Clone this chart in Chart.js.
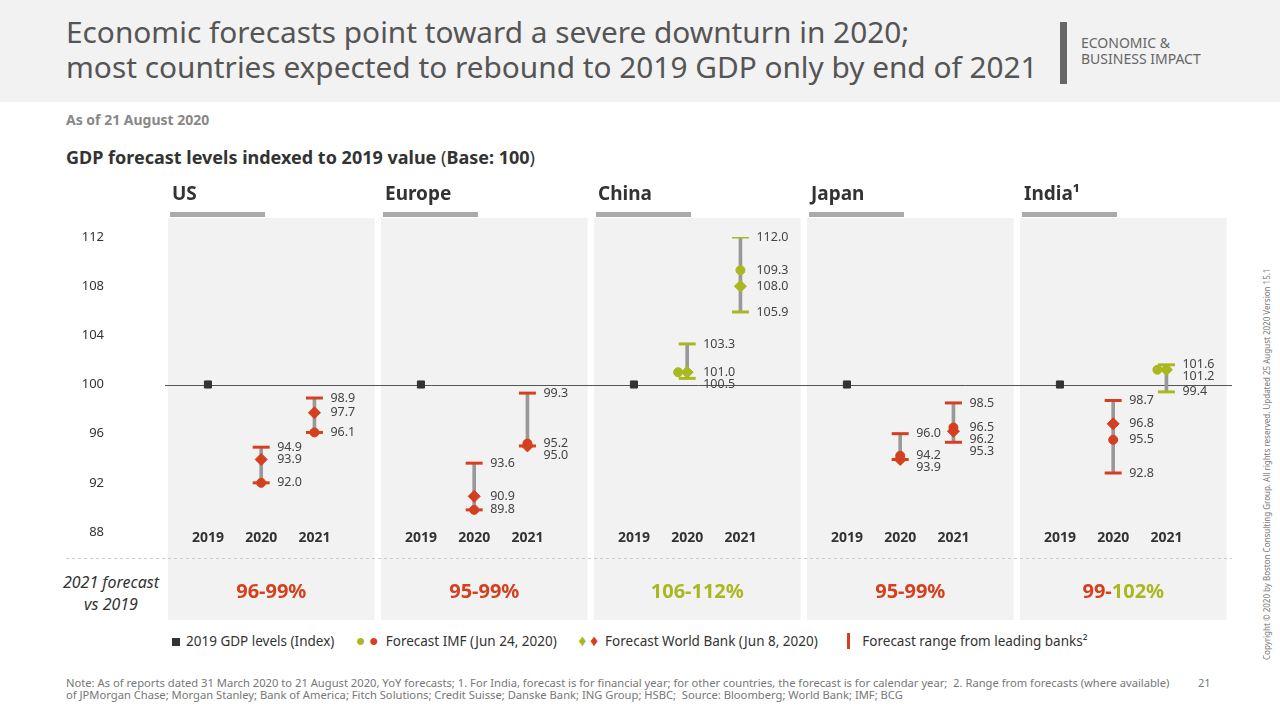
<!DOCTYPE html>
<html><head><meta charset="utf-8">
<script src="https://cdn.jsdelivr.net/npm/chart.js@4"></script>
<style>
body{margin:0;width:1280px;height:720px;position:relative;font-family:"Noto Sans",sans-serif;background:#fff;overflow:hidden}
.a{position:absolute;white-space:nowrap}
#hdr{position:absolute;left:0;top:0;width:1280px;height:102px;background:#f2f2f2}
canvas{position:absolute;left:0;top:0}
</style></head><body>
<div id="hdr"></div>
<div class="a" style="left:66px;top:14px;font-size:29.8px;color:#555;line-height:35px">Economic forecasts point toward a severe downturn in 2020;<br>most countries expected to rebound to 2019 GDP only by end of 2021</div>
<div class="a" style="left:1060px;top:22px;width:7px;height:62px;background:#666"></div>
<div class="a" style="left:1081px;top:35px;font-size:14px;color:#666;line-height:16px">ECONOMIC &amp;<br>BUSINESS IMPACT</div>
<div class="a" style="left:66px;top:110px;font-size:14px;font-weight:bold;color:#888">As of 21 August 2020</div>
<div class="a" style="left:66px;top:145px;font-size:18px;font-weight:bold;color:#333">GDP forecast levels indexed to 2019 value <span style="font-weight:normal">(</span>Base: 100<span style="font-weight:normal">)</span></div>
<div class="a" style="left:52px;top:571px;width:118px;text-align:center;font-size:16px;font-style:italic;color:#333;line-height:22px">2021 forecast<br>vs 2019</div>
<div class="a" style="left:172px;top:631px;font-size:13.5px;color:#333;line-height:18px">
<span style="display:inline-block;width:8px;height:8px;background:#333;margin-right:6px"></span>2019 GDP levels (Index)
<span style="color:#a9b81e;margin-left:18px;font-size:16px">●</span> <span style="color:#d4401f;font-size:16px">●</span>&nbsp; Forecast IMF (Jun 24, 2020)
<span style="color:#a9b81e;margin-left:18px;font-size:16px">♦</span> <span style="color:#d4401f;font-size:16px">♦</span>&nbsp; Forecast World Bank (Jun 8, 2020)
<span style="display:inline-block;width:3px;height:16px;background:#d4401f;margin-left:26px;margin-right:12px;vertical-align:-3px"></span>Forecast range from leading banks²</div>
<div class="a" style="left:66px;top:677px;font-size:11.2px;color:#777;line-height:12px">Note: As of reports dated 31 March 2020 to 21 August 2020, YoY forecasts; 1. For India, forecast is for financial year; for other countries, the forecast is for calendar year;&nbsp; 2. Range from forecasts (where available)<br>of JPMorgan Chase; Morgan Stanley; Bank of America; Fitch Solutions; Credit Suisse; Danske Bank; ING Group; HSBC;&nbsp; Source: Bloomberg; World Bank; IMF; BCG</div>
<div class="a" style="left:1198px;top:675px;font-size:11px;color:#777">21</div>
<div class="a" style="left:1261px;top:660px;font-size:8px;color:#777;transform:rotate(-90deg);transform-origin:0 0">Copyright © 2020 by Boston Consulting Group. All rights reserved. Updated 25 August 2020 Version 15.1</div>
<canvas id="c" width="1280" height="720"></canvas>
<script>
const regions=["US","Europe","China","Japan","India¹"];
const years=["2019","2020","2021"];
const base2019=[100,100,100,100,100];
// per region: [2020, 2021]
const imf=[[92.0,96.1],[89.8,95.2],[101.0,109.3],[94.2,96.5],[95.5,101.2]];
const wb=[[93.9,97.7],[90.9,95.0],[101.0,108.0],[93.9,96.2],[96.8,101.2]];
const rangeLow=[[92.0,96.1],[89.8,95.0],[100.5,105.9],[93.9,95.3],[92.8,99.4]];
const rangeHigh=[[94.9,98.9],[93.6,99.3],[103.3,112.0],[96.0,98.5],[98.7,101.6]];
const labelVals=[[[94.9,93.9,92.0],[98.9,97.7,96.1]],[[93.6,90.9,89.8],[99.3,95.2,95.0]],[[103.3,101.0,100.5],[112.0,109.3,108.0,105.9]],[[96.0,94.2,93.9],[98.5,96.5,96.2,95.3]],[[98.7,96.8,95.5,92.8],[101.6,101.2,99.4]]];
const imfShift=[[0,0],[0,0],[-0.17,0],[0,0],[0,-0.17]];
const forecast2021=[["96-99%"],["95-99%"],["106-112%"],["95-99%"],["99-","102%"]];

const RED="#d4401f",GREEN="#a9b81e",GRAY="#999";
const col=v=>v>=100?GREEN:RED;
const xOf=(r,k)=>4*r+0.75+k;
const sq=[],imfP=[],wbP=[],bars=[],caps=[];
regions.forEach((_,r)=>{
  sq.push({x:xOf(r,0),y:base2019[r]});
  for(let k=0;k<2;k++){
    const c=col(rangeHigh[r][k]);
    imfP.push({x:xOf(r,k+1)+imfShift[r][k],y:imf[r][k],c});
    wbP.push({x:xOf(r,k+1),y:wb[r][k],c});
    bars.push({x:xOf(r,k+1),y:[rangeLow[r][k],rangeHigh[r][k]]});
    caps.push({x:xOf(r,k+1),y:rangeLow[r][k],c});
    caps.push({x:xOf(r,k+1),y:rangeHigh[r][k],c});
  }
});
const F='"Noto Sans",sans-serif';
const deco={id:'deco',
 beforeDraw(ch){const c=ch.ctx,x=ch.scales.x,y=ch.scales.y;c.save();
  regions.forEach((n,r)=>{const l=x.getPixelForValue(4*r),rr=x.getPixelForValue(4*r+3.88);
   c.fillStyle="#f2f2f2";c.fillRect(l,218,rr-l,402);
   c.fillStyle="#aaa";c.fillRect(l+2,212,95,5);
   c.fillStyle="#333";c.font="bold 19px "+F;c.textBaseline="alphabetic";c.textAlign="left";c.fillText(n,l+4,200);
   c.font="bold 14px "+F;c.textAlign="center";
   years.forEach((yy,k)=>c.fillText(yy,x.getPixelForValue(xOf(r,k)),542));
   const parts=forecast2021[r];c.font="bold 20px "+F;
   const cx=(l+rr)/2;
   if(parts.length===1){c.fillStyle=col(parseFloat(parts[0].split("-")[1]));c.fillText(parts[0],cx,598);}
   else{const w0=c.measureText(parts[0]).width,w1=c.measureText(parts[1]).width;c.textAlign="left";
    c.fillStyle=RED;c.fillText(parts[0],cx-(w0+w1)/2,598);c.fillStyle=GREEN;c.fillText(parts[1],cx-(w0+w1)/2+w0,598);}
  });
  c.strokeStyle="#ccc";c.setLineDash([3,3]);c.lineWidth=1;c.beginPath();c.moveTo(66,558.5);c.lineTo(1232,558.5);c.stroke();c.setLineDash([]);
  const y0=Math.round(y.getPixelForValue(100))+0.5;c.strokeStyle="#555";c.beginPath();c.moveTo(165,y0);c.lineTo(1232,y0);c.stroke();
  c.restore();},
 afterDatasetsDraw(ch){const c=ch.ctx,x=ch.scales.x,y=ch.scales.y;c.save();c.font="12.5px "+F;c.fillStyle="#444";c.textAlign="left";c.textBaseline="middle";
  labelVals.forEach((g,r)=>g.forEach((vals,k)=>{const px=x.getPixelForValue(xOf(r,k+1))+16;let last=-1e9;
   vals.slice().sort((a,b)=>b-a).forEach(v=>{let py=y.getPixelForValue(v);if(py<last+12)py=last+12;last=py;c.fillText(v.toFixed(1),px,py);});}));
  c.restore();}
};
new Chart(document.getElementById('c'),{
 data:{datasets:[
  {type:'bar',data:bars,backgroundColor:GRAY,barThickness:3,order:5},
  {type:'scatter',data:caps,pointStyle:'line',radius:8.5,borderWidth:3,borderColor:caps.map(p=>p.c),order:4},
  {type:'scatter',data:sq,pointStyle:'rect',radius:5,backgroundColor:"#333",borderColor:"#333",order:1},
  {type:'scatter',data:imfP,pointStyle:'circle',radius:4.5,backgroundColor:imfP.map(p=>p.c),borderColor:imfP.map(p=>p.c),order:2},
  {type:'scatter',data:wbP,pointStyle:'rectRot',radius:6,backgroundColor:wbP.map(p=>p.c),borderColor:wbP.map(p=>p.c),order:1}
 ]},
 options:{responsive:false,animation:false,events:[],
  layout:{padding:{left:0,right:47,top:237,bottom:188}},
  plugins:{legend:{display:false},tooltip:{enabled:false}},
  scales:{
   x:{type:'linear',min:0,max:20,offset:false,display:false},
   y:{min:88,max:112,afterFit:s=>{s.width=168},grid:{display:false},border:{display:false},
      ticks:{stepSize:4,padding:56,color:"#333",font:{size:13,family:F}}}
  }},
 plugins:[deco]
});
</script></body></html>
